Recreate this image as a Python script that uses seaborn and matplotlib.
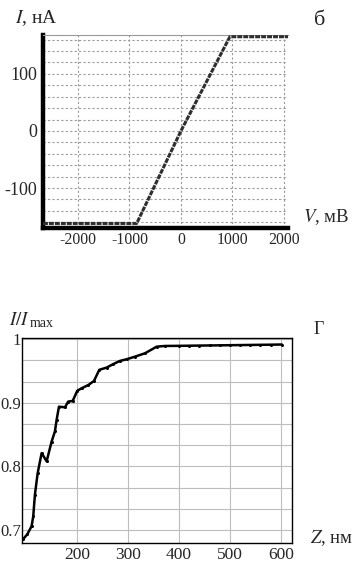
import numpy as np
import pandas as pd
import matplotlib
matplotlib.use("Agg")
import matplotlib.pyplot as plt
import seaborn as sns
from matplotlib.ticker import MultipleLocator

# ВАХ (панель б)
v_mv = [-2680, -2400, -2000, -1600, -1200, -860, 0, 951, 1200, 1600, 2080]
i_na = [-162, -162, -162, -162, -162, -162, 0, 165, 165, 165, 165]
v_ticks = [-2000, -1000, 0, 1000, 2000]
i_ticks = [-100, 0, 100]

# I/Imax от Z (панель г)
z_nm = [94, 101.7, 110.3, 113.5, 116.8, 122.1, 130, 139.8, 149.6, 156.1, 159.4,
        164, 175.8, 182.3, 191, 200, 208.7, 221.7, 232.9, 243.3, 257.8, 270.8,
        284, 297.1, 313.5, 333.1, 356.1, 372.5, 400, 420, 440, 460, 480, 500,
        520, 540, 560, 580, 602]
i_rel = [0.686, 0.693, 0.706, 0.7215, 0.7556, 0.789, 0.821, 0.808, 0.839, 0.855,
         0.873, 0.894, 0.893, 0.902, 0.903, 0.919, 0.923, 0.928, 0.9345, 0.952,
         0.9555, 0.961, 0.966, 0.9686, 0.9727, 0.978, 0.9884, 0.9895, 0.9897,
         0.9899, 0.9901, 0.9903, 0.9905, 0.9907, 0.9909, 0.9911, 0.9913,
         0.9915, 0.9918]
z_ticks = [200, 300, 400, 500, 600]
rel_ticks = [0.7, 0.8, 0.9, 1.0]
rel_labels = ["0.7", "0.8", "0.9", "1"]

sns.set_style("white")
plt.rcParams['font.family'] = ['Liberation Serif', 'DejaVu Serif']
plt.rcParams['mathtext.fontset'] = 'stix'
plt.rcParams['axes.unicode_minus'] = False

W, H = 359, 566
fig = plt.figure(figsize=(W / 100, H / 100), dpi=100)

def px(x, y):
    return x / W, 1 - y / H

# верхний график
ax1 = fig.add_axes([43 / W, 1 - 228 / H, 245 / W, 193 / H])
df1 = pd.DataFrame({"V": v_mv, "I": i_na})
sns.lineplot(data=df1, x="V", y="I", ax=ax1, color="#2e2e2e", lw=2.2,
             linestyle=(0, (1.6, 0.35)), clip_on=False, zorder=3)
ax1.set_xlim(-2680, 2080)
ax1.set_ylim(-170, 168)
ax1.set_xticks(v_ticks)
ax1.set_yticks(i_ticks)
ax1.yaxis.set_minor_locator(MultipleLocator(20))
ax1.grid(True, which="both", color="#9a9a9a", lw=0.8, linestyle=(0, (2, 2)))
ax1.tick_params(length=0, which="both")
ax1.tick_params(axis="y", pad=4, labelsize=13)
ax1.tick_params(axis="x", pad=3, labelsize=11.3)
ax1.set_xlabel("")
ax1.set_ylabel("")
for s in ["left", "bottom"]:
    ax1.spines[s].set_linewidth(3.2)
    ax1.spines[s].set_color("black")
ax1.spines["top"].set_color("#999999")
ax1.spines["top"].set_linewidth(0.8)
ax1.spines["right"].set_visible(False)

fig.text(*px(15, 23), "$I$, нA", fontsize=14)
fig.text(*px(314, 25), "б", fontsize=16)
fig.text(*px(303, 222), "$V$, мВ", fontsize=13.5)

# нижний график
ax2 = fig.add_axes([22.3 / W, 1 - 543.3 / H, 269.7 / W, 205.6 / H])
df2 = pd.DataFrame({"Z": z_nm, "rel": i_rel})
sns.lineplot(data=df2, x="Z", y="rel", ax=ax2, color="black", lw=1.8,
             marker="o", markersize=2.2, markeredgewidth=0, zorder=3)
ax2.set_xlim(92, 622)
ax2.set_ylim(0.679, 1.0025)
ax2.set_xticks(z_ticks)
ax2.set_yticks(rel_ticks)
ax2.set_yticklabels(rel_labels)
ax2.yaxis.set_minor_locator(MultipleLocator(0.1 / 3))
ax2.grid(True, which="both", color="#bdbdbd", lw=0.8)
ax2.tick_params(length=0, which="both")
ax2.tick_params(axis="y", pad=1, labelsize=12)
ax2.tick_params(axis="x", pad=3, labelsize=12.5)
ax2.set_xlabel("")
ax2.set_ylabel("")
for s in ax2.spines.values():
    s.set_color("black")
    s.set_linewidth(1.0)

fig.text(*px(9, 325), "$I/I$", fontsize=13.5)
fig.text(*px(30, 327), "max", fontsize=10)
fig.text(*px(314, 334), "Г", fontsize=13)
fig.text(*px(310, 543), "$Z$, нм", fontsize=13.5)

fig.savefig("out.png", dpi=100)
